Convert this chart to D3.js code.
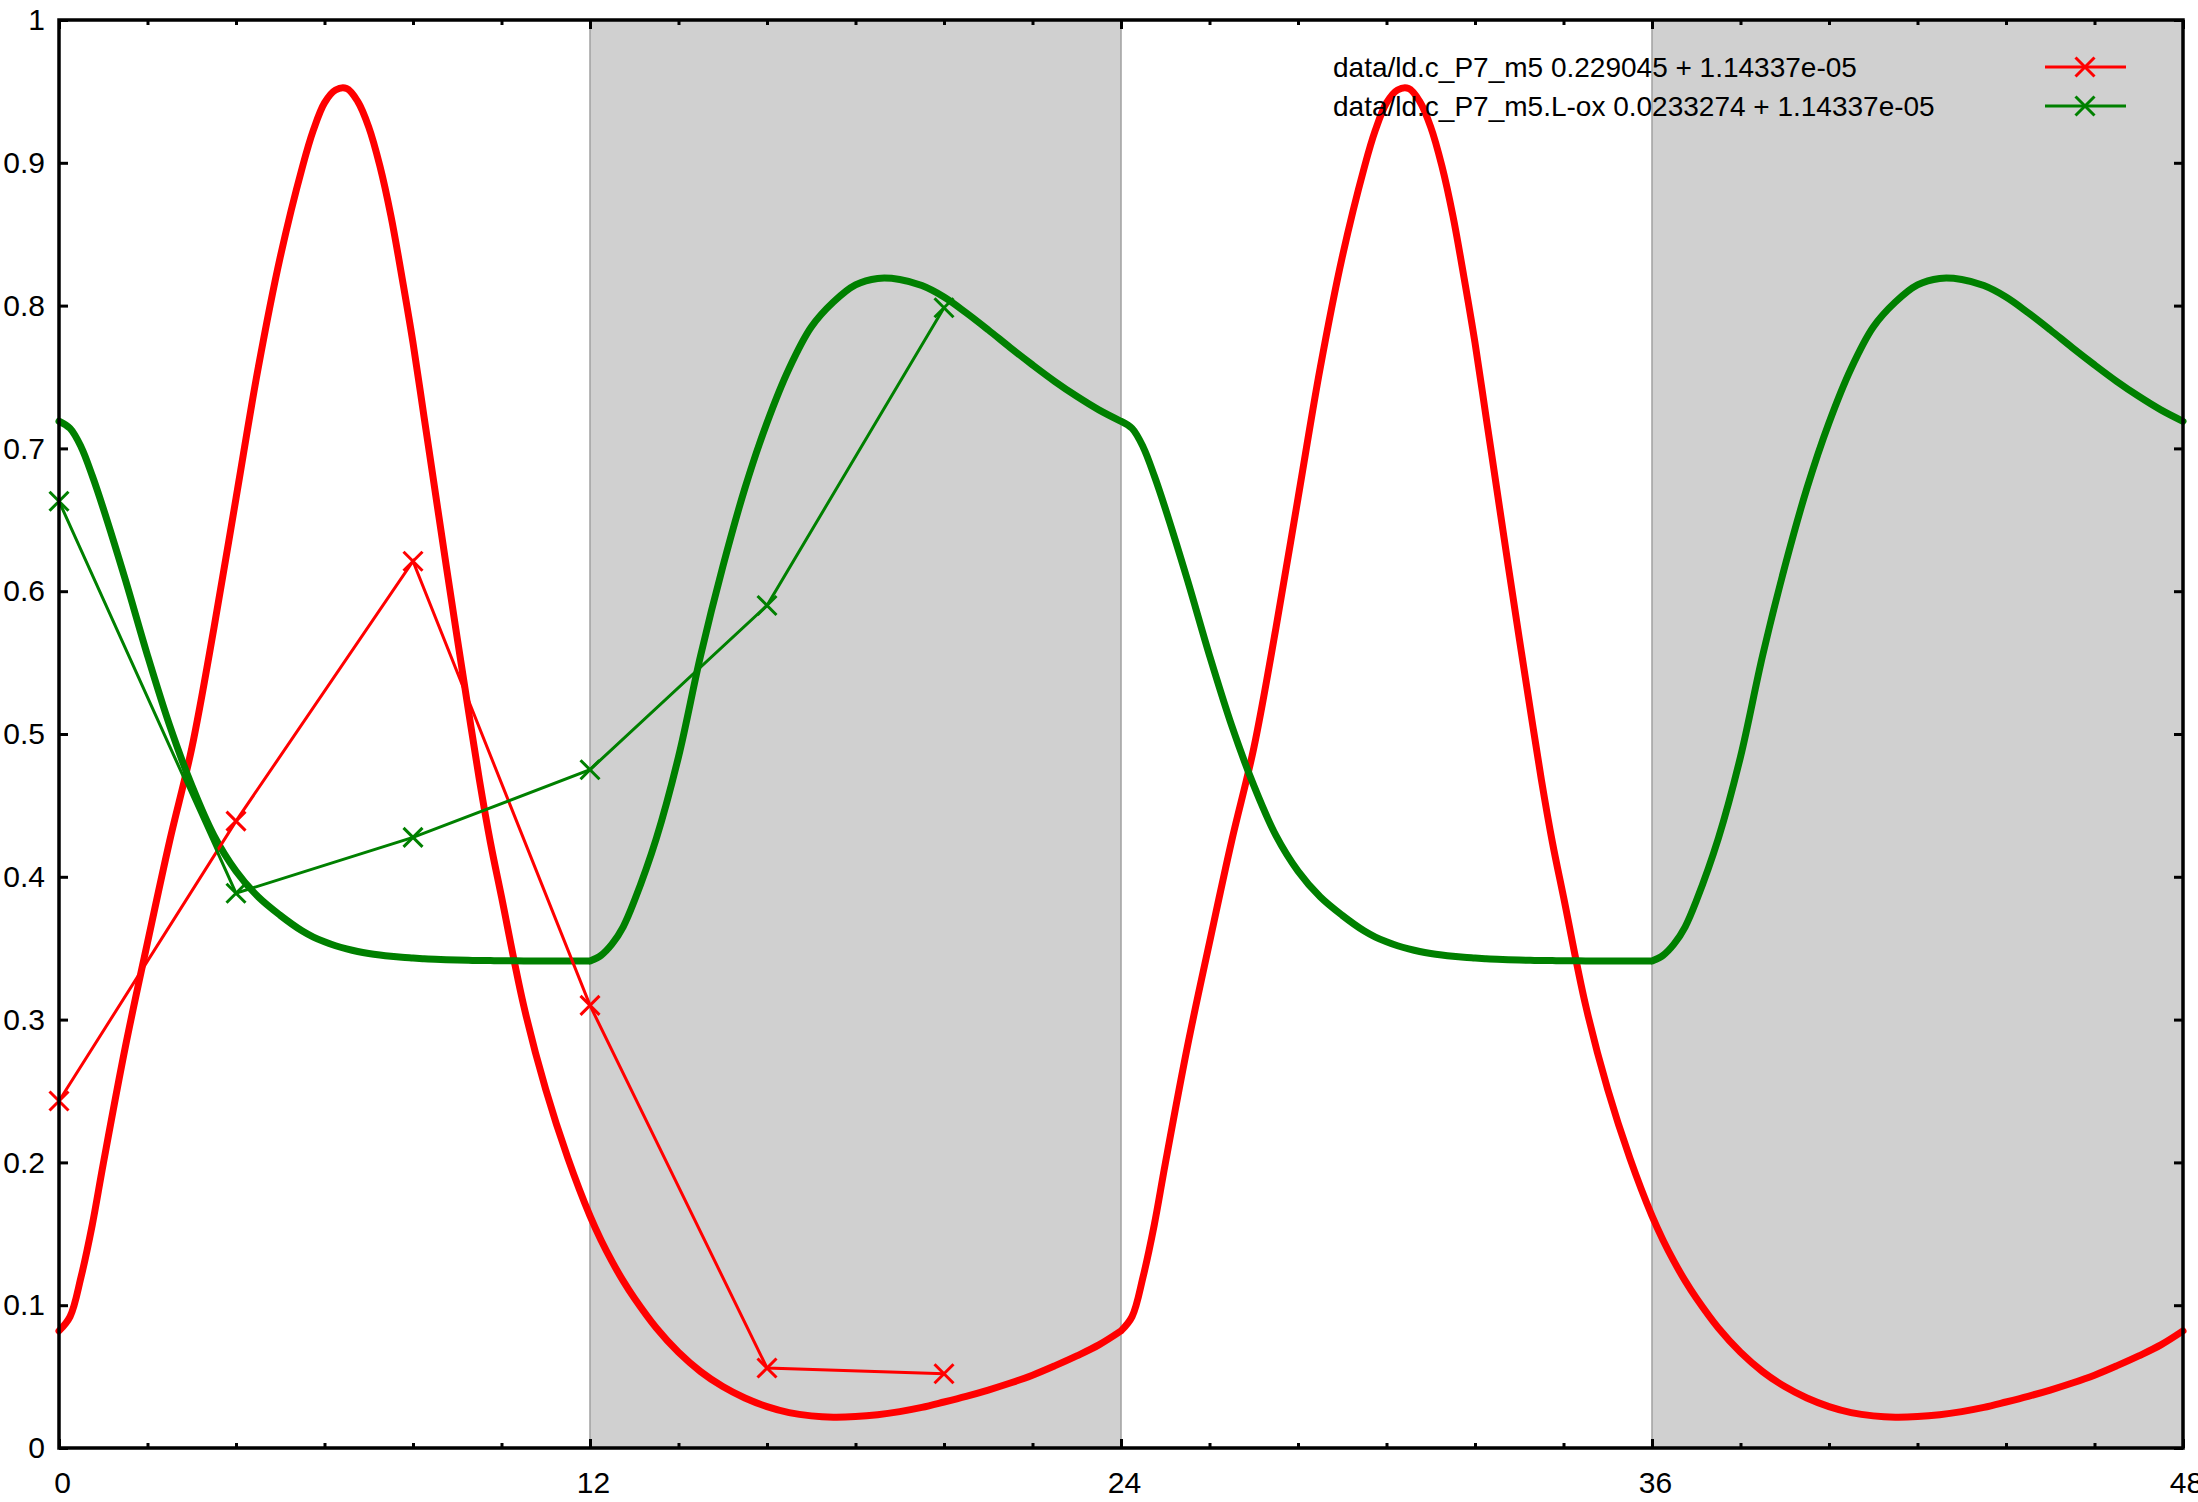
<!DOCTYPE html>
<html>
<head>
<meta charset="utf-8">
<script src="https://cdn.jsdelivr.net/npm/d3@7"></script>
<style>
  html, body { margin: 0; padding: 0; background: #ffffff; }
  svg { display: block; }
  text { font-family: "Liberation Sans", Arial, sans-serif; }
</style>
</head>
<body>
<svg id="chart" width="2198" height="1502"></svg>
<script>
// ---- data ----
const modelHours = [
  0,0.25,0.5,0.75,1,1.5,2,2.5,3,3.5,4,4.5,5,5.5,5.75,6,6.25,6.5,6.75,7,7.25,7.5,7.75,8,8.25,8.5,8.75,9,9.25,9.5,9.75,10,10.5,11,11.5,12,12.25,12.5,12.75,13,13.5,14,14.5,15,15.5,16,16.5,17,17.5,18,18.5,19,19.5,20,20.5,21,21.5,22,22.5,23,23.5,
  24,24.25,24.5,24.75,25,25.5,26,26.5,27,27.5,28,28.5,29,29.5,29.75,30,30.25,30.5,30.75,31,31.25,31.5,31.75,32,32.25,32.5,32.75,33,33.25,33.5,33.75,34,34.5,35,35.5,36,36.25,36.5,36.75,37,37.5,38,38.5,39,39.5,40,40.5,41,41.5,42,42.5,43,43.5,44,44.5,45,45.5,46,46.5,47,47.5,
  48
];
const redModel = [
  0.082,0.092,0.120,0.156,0.199,0.281,0.354,0.425,0.490,0.574,0.665,0.756,0.834,0.897,0.923,0.942,0.951,0.952,0.943,0.925,0.898,0.863,0.820,0.774,0.722,0.670,0.618,0.567,0.517,0.468,0.424,0.386,0.310,0.251,0.203,0.1625,0.1455,0.1305,0.117,0.105,0.084,0.067,0.0535,0.043,0.035,0.029,0.0248,0.0225,0.0216,0.022,0.0233,0.0255,0.0284,0.0322,0.0362,0.0406,0.0455,0.051,0.0575,0.0645,0.0722,
  0.082,0.092,0.120,0.156,0.199,0.281,0.354,0.425,0.490,0.574,0.665,0.756,0.834,0.897,0.923,0.942,0.951,0.952,0.943,0.925,0.898,0.863,0.820,0.774,0.722,0.670,0.618,0.567,0.517,0.468,0.424,0.386,0.310,0.251,0.203,0.1625,0.1455,0.1305,0.117,0.105,0.084,0.067,0.0535,0.043,0.035,0.029,0.0248,0.0225,0.0216,0.022,0.0233,0.0255,0.0284,0.0322,0.0362,0.0406,0.0455,0.051,0.0575,0.0645,0.0722,
  0.082
];
const greenModel = [
  0.719,0.714,0.701,0.681,0.658,0.608,0.555,0.506,0.464,0.429,0.404,0.386,0.373,0.362,0.3578,0.3545,0.3517,0.3495,0.3477,0.3463,0.3452,0.3443,0.3436,0.3431,0.3426,0.3422,0.3419,0.3417,0.3415,0.3414,0.3413,0.3412,0.3411,0.341,0.341,0.341,0.345,0.353,0.365,0.383,0.427,0.484,0.555,0.617,0.672,0.718,0.756,0.785,0.8025,0.8145,0.819,0.8183,0.814,0.806,0.795,0.783,0.7705,0.7585,0.747,0.7365,0.727,
  0.719,0.714,0.701,0.681,0.658,0.608,0.555,0.506,0.464,0.429,0.404,0.386,0.373,0.362,0.3578,0.3545,0.3517,0.3495,0.3477,0.3463,0.3452,0.3443,0.3436,0.3431,0.3426,0.3422,0.3419,0.3417,0.3415,0.3414,0.3413,0.3412,0.3411,0.341,0.341,0.341,0.345,0.353,0.365,0.383,0.427,0.484,0.555,0.617,0.672,0.718,0.756,0.785,0.8025,0.8145,0.819,0.8183,0.814,0.806,0.795,0.783,0.7705,0.7585,0.747,0.7365,0.727,
  0.719
];
const dataHours = [0, 4, 8, 12, 16, 20];
const redData   = [0.243, 0.439, 0.621, 0.310, 0.056, 0.052];
const greenData = [0.663, 0.3885, 0.4276, 0.475, 0.590, 0.7985];
const darkPeriods = [[12, 24], [36, 48]];
const xMajorTicks = [0, 12, 24, 36, 48];
const xTickLabels = ["0", "12", "24", "36", "48"];
const xMinorTicks = [2,4,6,8,10,14,16,18,20,22,26,28,30,32,34,38,40,42,44,46];
const yTicks = [0, 0.1, 0.2, 0.3, 0.4, 0.5, 0.6, 0.7, 0.8, 0.9, 1];
const yTickLabels = ["0", "0.1", "0.2", "0.3", "0.4", "0.5", "0.6", "0.7", "0.8", "0.9", "1"];
const legendLabels = [
  "data/ld.c_P7_m5 0.229045 + 1.14337e-05",
  "data/ld.c_P7_m5.L-ox 0.0233274 + 1.14337e-05"
];
// hours where the model curves have a corner (light switches)
const redCorners = [24];
const greenCorners = [12, 24, 36];

// ---- layout ----
const RED = "#ff0000", GREEN = "#008000";
const plotL = 59, plotR = 2183, plotT = 20, plotB = 1448;
const svg = d3.select("#chart");
svg.append("rect").attr("width", 2198).attr("height", 1502).attr("fill", "#ffffff");

const x = d3.scaleLinear().domain([0, 48]).range([plotL, plotR]);
const y = d3.scaleLinear().domain([0, 1]).range([plotB, plotT]);

// dark periods
svg.append("g").selectAll("rect").data(darkPeriods).join("rect")
  .attr("x", d => x(d[0])).attr("y", plotT)
  .attr("width", d => x(d[1]) - x(d[0])).attr("height", plotB - plotT)
  .attr("fill", "#d0d0d0");
svg.append("g").selectAll("line").data(darkPeriods.flat()).join("line")
  .attr("x1", d => x(d)).attr("x2", d => x(d))
  .attr("y1", plotT).attr("y2", plotB)
  .attr("stroke", "#a0a0a0").attr("stroke-width", 1.5);

// axes
function styleAxis(g) {
  g.select(".domain").remove();
  g.selectAll(".tick line").attr("stroke", "#000").attr("stroke-width", 3);
  g.selectAll(".tick text").attr("fill", "#000").attr("font-size", 30)
    .attr("font-family", "'Liberation Sans', Arial, sans-serif");
}
svg.append("g").attr("transform", `translate(0,${plotB})`)
  .call(d3.axisBottom(x).tickValues(xMajorTicks).tickSize(-9).tickPadding(24)
    .tickFormat((d, i) => xTickLabels[i]))
  .call(styleAxis)
  .call(g => g.selectAll(".tick text").attr("dx", 3));
svg.append("g").attr("transform", `translate(0,${plotB})`)
  .call(d3.axisBottom(x).tickValues(xMinorTicks).tickSize(-5).tickFormat(""))
  .call(styleAxis);
svg.append("g").attr("transform", `translate(0,${plotT})`)
  .call(d3.axisTop(x).tickValues(xMajorTicks).tickSize(-9).tickFormat(""))
  .call(styleAxis);
svg.append("g").attr("transform", `translate(0,${plotT})`)
  .call(d3.axisTop(x).tickValues(xMinorTicks).tickSize(-5).tickFormat(""))
  .call(styleAxis);
svg.append("g").attr("transform", `translate(${plotL},0)`)
  .call(d3.axisLeft(y).tickValues(yTicks).tickSize(-9).tickPadding(14)
    .tickFormat((d, i) => yTickLabels[i]))
  .call(styleAxis);
svg.append("g").attr("transform", `translate(${plotR},0)`)
  .call(d3.axisRight(y).tickValues(yTicks).tickSize(-9).tickFormat(""))
  .call(styleAxis);

// curves: split into smooth pieces at the corner hours
const smoothLine = d3.line().x(d => x(d[0])).y(d => y(d[1]))
  .curve(d3.curveCatmullRom.alpha(0.5));
function modelPieces(vals, corners) {
  const pts = modelHours.map((h, i) => [h, vals[i]]);
  const edges = [0, ...corners, 48];
  const pieces = [];
  for (let k = 0; k < edges.length - 1; k++) {
    pieces.push(pts.filter(p => p[0] >= edges[k] && p[0] <= edges[k + 1]));
  }
  return pieces;
}
const dataLine = d3.line().x((d, i) => x(dataHours[i])).y(d => y(d));

const plot = svg.append("g");
function crossPath(cx, cy, s) {
  return `M${cx - s},${cy - s}L${cx + s},${cy + s}M${cx - s},${cy + s}L${cx + s},${cy - s}`;
}
function crosses(g, vals, hours, color) {
  g.selectAll(null).data(vals).join("path")
    .attr("d", (d, i) => crossPath(x(hours[i]), y(d), 9.5))
    .attr("stroke", color).attr("stroke-width", 3).attr("fill", "none");
}
function drawModel(vals, corners, color) {
  plot.append("path").attr("d", modelPieces(vals, corners).map(p => smoothLine(p)).join(""))
    .attr("fill", "none").attr("stroke", color).attr("stroke-width", 7)
    .attr("stroke-linejoin", "round").attr("stroke-linecap", "round");
}
drawModel(redModel, redCorners, RED);
drawModel(greenModel, greenCorners, GREEN);
plot.append("path").attr("d", dataLine(redData))
  .attr("fill", "none").attr("stroke", RED).attr("stroke-width", 3);
crosses(plot.append("g"), redData, dataHours, RED);
plot.append("path").attr("d", dataLine(greenData))
  .attr("fill", "none").attr("stroke", GREEN).attr("stroke-width", 3);
crosses(plot.append("g"), greenData, dataHours, GREEN);

// border
svg.append("rect").attr("x", plotL).attr("y", plotT)
  .attr("width", plotR - plotL).attr("height", plotB - plotT)
  .attr("fill", "none").attr("stroke", "#000").attr("stroke-width", 3.5);

// legend
const legendColors = [RED, GREEN];
const lg = svg.append("g");
legendLabels.forEach((lab, i) => {
  const cy = 67 + i * 39;
  lg.append("text").attr("x", 1333).attr("y", cy + 10)
    .attr("font-size", 28).attr("fill", "#000").text(lab);
  lg.append("line").attr("x1", 2045).attr("x2", 2126).attr("y1", cy).attr("y2", cy)
    .attr("stroke", legendColors[i]).attr("stroke-width", 3);
  lg.append("path").attr("d", crossPath(2085, cy, 9.5))
    .attr("stroke", legendColors[i]).attr("stroke-width", 3).attr("fill", "none");
});
</script>
</body>
</html>
